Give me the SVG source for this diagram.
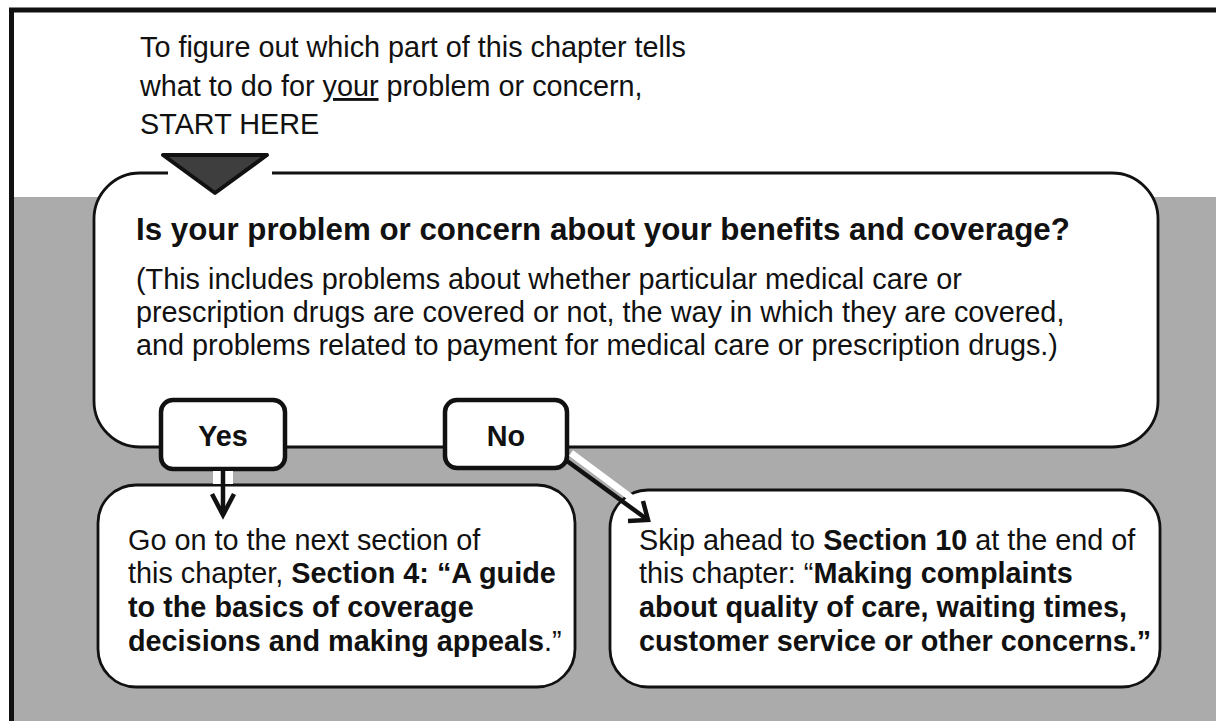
<svg xmlns="http://www.w3.org/2000/svg" width="1216" height="721" viewBox="0 0 1216 721">
<style>
.t{font-family:"Liberation Sans",Arial,sans-serif;font-size:28.8px;fill:#111}
.b{font-weight:bold}
.h{font-family:"Liberation Sans",Arial,sans-serif;font-size:31.3px;font-weight:bold;fill:#111}
.box{fill:#fff;stroke:#111;stroke-width:2.8}
.lbl{fill:#fff;stroke:#111;stroke-width:4.5}
.arr{fill:none;stroke:#111;stroke-width:4.5}
</style>
<rect x="0" y="0" width="1216" height="721" fill="#fff"/>
<rect x="11" y="197" width="1210" height="530" fill="#ababab"/>
<rect x="11.5" y="10" width="1220" height="720" fill="none" stroke="#111" stroke-width="5"/>
<g id="intro">
<text class="t" x="140" y="57">To figure out which part of this chapter tells</text>
<text class="t" x="140" y="96">what to do for <tspan text-decoration="underline">your</tspan> problem or concern,</text>
<text class="t" x="140" y="134">START HERE</text>
</g>
<g id="question">
<rect class="box" x="94" y="173" width="1064" height="274" rx="46"/>
<rect x="168" y="169" width="104" height="8" fill="#fff"/>
<polygon points="163,155 267,155 215,193" fill="#3e3e3e" stroke="#111" stroke-width="4" stroke-linejoin="round"/>
<text class="h" x="136" y="240">Is your problem or concern about your benefits and coverage?</text>
<text class="t" x="136" y="289">(This includes problems about whether particular medical care or</text>
<text class="t" x="136" y="322">prescription drugs are covered or not, the way in which they are covered,</text>
<text class="t" x="136" y="355">and problems related to payment for medical care or prescription drugs.)</text>
</g>
<g id="yes-result">
<rect class="box" x="98" y="485" width="477" height="202" rx="38"/>
<text class="t" x="128" y="550">Go on to the next section of</text>
<text class="t" x="128" y="583">this chapter, <tspan class="b">Section 4: “A guide</tspan></text>
<text class="t b" x="128" y="617">to the basics of coverage</text>
<text class="t" x="128" y="651"><tspan class="b">decisions and making appeals</tspan>.”</text>
</g>
<g id="no-result">
<rect class="box" x="610" y="490" width="550" height="197" rx="38"/>
<text class="t" x="639" y="550">Skip ahead to <tspan class="b">Section 10</tspan> at the end of</text>
<text class="t" x="639" y="583">this chapter: “<tspan class="b">Making complaints</tspan></text>
<text class="t b" x="639" y="617">about quality of care, waiting times,</text>
<text class="t b" x="639" y="651">customer service or other concerns.”</text>
</g>
<g id="yes">
<rect class="lbl" x="161" y="400" width="124" height="69" rx="12"/>
<text class="t b" x="223" y="446" text-anchor="middle">Yes</text>
</g>
<g id="no">
<rect class="lbl" x="445" y="400" width="122" height="68" rx="12"/>
<text class="t b" x="506" y="446" text-anchor="middle">No</text>
</g>
<g id="connectors">
<rect x="213" y="471" width="20" height="13" fill="#fff"/>
<line class="arr" x1="223" y1="471" x2="223" y2="515"/>
<polyline class="arr" points="212,494 223,515 234,494"/>
<line x1="571" y1="453" x2="653" y2="514" stroke="#fff" stroke-width="7"/>
<line class="arr" x1="567" y1="461" x2="648" y2="520"/>
<polyline class="arr" points="643,501 648,520 628,521"/>
</g>
</svg>
